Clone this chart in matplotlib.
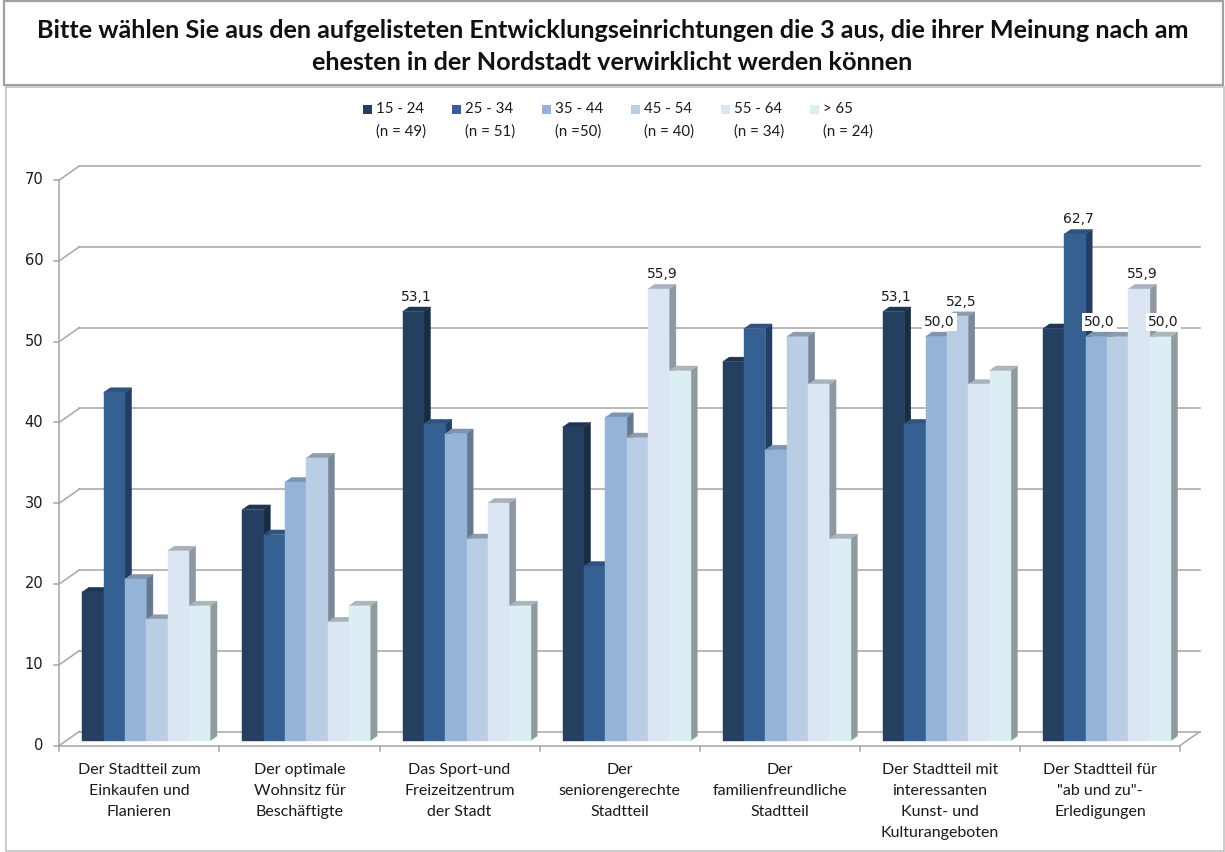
import matplotlib
matplotlib.use("Agg")
import matplotlib.pyplot as plt
from matplotlib.patches import Polygon, Rectangle
from matplotlib.lines import Line2D

# ---- data -------------------------------------------------------------
categories = [
    "Der Stadtteil zum\nEinkaufen und\nFlanieren",
    "Der optimale\nWohnsitz für\nBeschäftigte",
    "Das Sport-und\nFreizeitzentrum\nder Stadt",
    "Der\nseniorengerechte\nStadtteil",
    "Der\nfamilienfreundliche\nStadtteil",
    "Der Stadtteil mit\ninteressanten\nKunst- und\nKulturangeboten",
    "Der Stadtteil für\n\"ab und zu\"-\nErledigungen",
]
age_groups = ["15 - 24", "25 - 34", "35 - 44", "45 - 54", "55 - 64", "> 65"]
group_sizes = ["(n = 49)", "(n = 51)", "(n =50)", "(n = 40)", "(n = 34)", "(n = 24)"]

age_15_24 = [18.4, 28.6, 53.1, 38.8, 46.9, 53.1, 51.0]
age_25_34 = [43.1, 25.5, 39.2, 21.6, 51.0, 39.2, 62.7]
age_35_44 = [20.0, 32.0, 38.0, 40.0, 36.0, 50.0, 50.0]
age_45_54 = [15.0, 35.0, 25.0, 37.5, 50.0, 52.5, 50.0]
age_55_64 = [23.5, 14.7, 29.4, 55.9, 44.1, 44.1, 55.9]
age_65_up = [16.7, 16.7, 16.7, 45.8, 25.0, 45.8, 50.0]
series = [age_15_24, age_25_34, age_35_44, age_45_54, age_55_64, age_65_up]

# bars whose value is printed: (series index, category index)
labelled = [(0, 2), (4, 3), (0, 5), (2, 5), (3, 5), (1, 6), (2, 6), (4, 6), (5, 6)]

y_ticks = [0, 10, 20, 30, 40, 50, 60, 70]

# ---- styling ----------------------------------------------------------
front_colors = ["#243F60", "#366092", "#95B3D7", "#B9CDE5", "#DCE6F2", "#DBEEF4"]
side_colors = ["#1A2C44", "#233E62", "#66788F", "#7B8899", "#8F97A1", "#8E9BA0"]
top_colors = ["#1E3653", "#2E5381", "#7D93AE", "#8E9CAE", "#A9B1BB", "#AAB6BA"]
grid_col = "#A6A6A6"
txt_font = ["Lato", "DejaVu Sans"]
num_font = ["DejaVu Sans"]

W, H = 1225, 852
fig = plt.figure(figsize=(W / 100, H / 100), dpi=100)


def fx(px):
    return px / W


def fy(py):
    return 1 - py / H


# front plane of the plot: x 0..7 (categories), y 0..70 (percent)
x0_px, x1_px = 59.3, 1180.0
y0_px, y70_px = 745.5, 180.0
ax = fig.add_axes([fx(x0_px), fy(y0_px), fx(x1_px) - fx(x0_px), fy(y70_px) - fy(y0_px)])
n_cat = len(categories)
ax.set_xlim(0, n_cat)
ax.set_ylim(0, 70)
ax.axis("off")

px_per_cat = (x1_px - x0_px) / n_cat
px_per_unit = (y0_px - y70_px) / 70
DX = 20 / px_per_cat       # depth offset (back wall) in category units
DY = 14 / px_per_unit      # depth offset in value units
a_depth, b_depth = 0.35, 0.68

# back wall gridlines, left wall diagonals, floor
for v in y_ticks:
    ax.add_line(Line2D([DX, n_cat + DX], [v + DY, v + DY], color=grid_col, lw=1.1,
                       zorder=1, clip_on=False))
    ax.add_line(Line2D([0, DX], [v, v + DY], color=grid_col, lw=1.1, zorder=1, clip_on=False))
    ax.add_line(Line2D([-0.035, 0], [v, v], color=grid_col, lw=1.1, zorder=1, clip_on=False))
    ax.text(-0.1, v, str(v), ha="right", va="center", fontsize=10.5, family=num_font,
            color="#1A1A1A")
ax.add_line(Line2D([0, 0], [0, 70], color=grid_col, lw=1.1, zorder=1, clip_on=False))
ax.add_line(Line2D([0, n_cat], [0, 0], color=grid_col, lw=1.1, zorder=1, clip_on=False))
ax.add_line(Line2D([n_cat, n_cat + DX], [0, DY], color=grid_col, lw=1.1, zorder=1,
                   clip_on=False))
for i in range(n_cat + 1):
    ax.add_line(Line2D([i, i], [0, -0.7], color=grid_col, lw=1.1, zorder=1, clip_on=False))

# 3-D columns
n_ser = len(series)
bw = 0.8 / n_ser
z = 2.0
for ci in range(n_cat):
    for si in range(n_ser):
        v = series[si][ci]
        xl = ci + 0.1 + si * bw + a_depth * DX
        xr = xl + bw
        yb = a_depth * DY
        ddx = (b_depth - a_depth) * DX
        ddy = (b_depth - a_depth) * DY
        side = Polygon([(xr, yb), (xr + ddx, yb + ddy), (xr + ddx, yb + ddy + v), (xr, yb + v)],
                       closed=True, facecolor=side_colors[si], edgecolor=side_colors[si],
                       lw=0.3, zorder=z, clip_on=False)
        top = Polygon([(xl, yb + v), (xr, yb + v), (xr + ddx, yb + ddy + v), (xl + ddx, yb + ddy + v)],
                      closed=True, facecolor=top_colors[si], edgecolor=top_colors[si],
                      lw=0.3, zorder=z, clip_on=False)
        ax.add_patch(side)
        ax.add_patch(top)
        ax.bar(xl, v, width=bw, bottom=yb, align="edge", color=front_colors[si],
               edgecolor=front_colors[si], lw=0.3, zorder=z + 0.001, clip_on=False)
        z += 0.01

# value labels
for si, ci in labelled:
    v = series[si][ci]
    xc = ci + 0.1 + (si + 0.5) * bw + (a_depth + b_depth) / 2 * DX
    ax.text(xc, v + b_depth * DY + 0.4, f"{v:.1f}".replace(".", ","), ha="center",
            va="bottom", fontsize=10, family=num_font, color="#1A1A1A", zorder=10,
            bbox=dict(boxstyle="square,pad=0.15", facecolor="white", edgecolor="none"))

# category labels
for ci, lab in enumerate(categories):
    ax.text(ci + 0.5, -2.2, lab, ha="center", va="top", fontsize=11.5, family=txt_font,
            linespacing=1.62, color="#1A1A1A")

# frames
fig.add_artist(Rectangle((fx(4), fy(85)), fx(1223) - fx(4), fy(1) - fy(85),
                         transform=fig.transFigure, facecolor="none", edgecolor="#A0A0A0",
                         lw=1.6))
fig.add_artist(Rectangle((fx(5.5), fy(851)), fx(1223.5) - fx(5.5), fy(87) - fy(851),
                         transform=fig.transFigure, facecolor="none", edgecolor="#C4C4C4",
                         lw=1.2))

# title
title_lines = ["Bitte wählen Sie aus den aufgelisteten Entwicklungseinrichtungen die 3 aus, "
               "die ihrer Meinung nach am",
               "ehesten in der Nordstadt verwirklicht werden können"]
for line, ypx in zip(title_lines, [31, 63]):
    fig.text(0.5, fy(ypx), line, ha="center", va="center", fontsize=18.2,
             fontweight="bold", family=txt_font, color="#111111")

# legend
for k in range(n_ser):
    sx = 362.7 + k * 89.5
    fig.add_artist(Rectangle((fx(sx), fy(113.5)), fx(9), 9 / H, transform=fig.transFigure,
                             facecolor=front_colors[k], edgecolor="none"))
    fig.text(fx(sx + 13), fy(109), age_groups[k], ha="left", va="center", fontsize=10.8,
             family=txt_font, color="#1A1A1A")
    fig.text(fx(sx + 13), fy(132), group_sizes[k], ha="left", va="center", fontsize=10.8,
             family=txt_font, color="#1A1A1A")

fig.savefig("out.png", dpi=100)
